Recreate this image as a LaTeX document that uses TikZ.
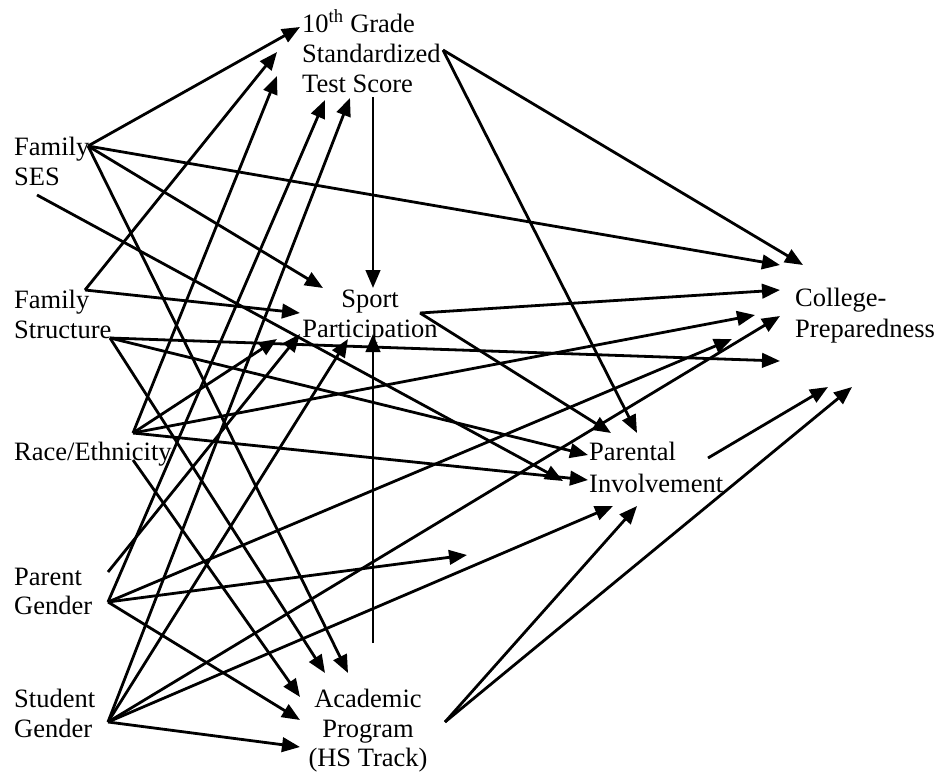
\documentclass[tikz,border=0pt]{standalone}
\usepackage{fontspec}
\setmainfont{Liberation Serif}
\usetikzlibrary{arrows.meta}
\begin{document}
\begin{tikzpicture}[x=1pt,y=-1pt,
  lbl/.style={inner sep=0pt, font=\fontsize{26.5}{30}\selectfont},
  lw/.style={lbl, anchor=base west},
  lc/.style={lbl, anchor=base},
  link/.style={-{Triangle[length=18pt,width=14.5pt]}, line width=2.8pt}]
\path[use as bounding box] (0,0) rectangle (940,777);
% ---------- labels ----------
\node[lw] (test1) at (302,32) {10\textsuperscript{th} Grade};
\node[lw] (test2) at (302,62) {Standardized};
\node[lw] (test3) at (302,92) {Test Score};
\node[lw] (ses1) at (14,155) {Family};
\node[lw] (ses2) at (14,185) {SES};
\node[lw] (str1) at (14,308) {Family};
\node[lw] (str2) at (14,338) {Structure};
\node[lw] (race) at (14,460) {Race/Ethnicity};
\node[lw] (par1) at (14,585) {Parent};
\node[lw] (par2) at (14,614) {Gender};
\node[lw] (stu1) at (14,707) {Student};
\node[lw] (stu2) at (14,737) {Gender};
\node[lc] (sp1) at (370,307) {Sport};
\node[lc] (sp2) at (370,337) {Participation};
\node[lw] (col1) at (795,306) {College-};
\node[lw] (col2) at (795,337) {Preparedness};
\node[lw] (pin1) at (589,460) {Parental};
\node[lw] (pin2) at (589,492) {Involvement};
\node[lc] (ac1) at (368,707) {Academic};
\node[lc] (ac2) at (368,737) {Program};
\node[lc] (ac3) at (368,766) {(HS Track)};
% ---------- start points ----------
\coordinate (sesA) at (88,146);
\coordinate (sesB) at (37,195);
\coordinate (strA) at (85,290);
\coordinate (strB) at (110,338);
\coordinate (raceA) at (133,433);
\coordinate (raceB) at (133,460);
\coordinate (parA) at (108,572);
\coordinate (parB) at (108,602);
\coordinate (stu) at (108,722);
\coordinate (testV) at (373,97);
\coordinate (testR) at (443,50);
\coordinate (sportR) at (420,313);
\coordinate (acadV) at (373,643);
\coordinate (acadR) at (445,722);
\coordinate (pinvR) at (708,458);
% ---------- arrow tips ----------
\coordinate (tT1) at (300,27);
\coordinate (tT2) at (277,52);
\coordinate (tT3) at (277,76);
\coordinate (tT4) at (325,100);
\coordinate (tT5) at (350,98);
\coordinate (sT1) at (323,288);
\coordinate (sT2) at (300,313);
\coordinate (sT3) at (277,339);
\coordinate (sT4) at (300,334);
\coordinate (sT5) at (348,339);
\coordinate (sTtop) at (373,288);
\coordinate (sTbot) at (373,334);
\coordinate (cT1) at (780,265);
\coordinate (cT2) at (803,265);
\coordinate (cT3) at (780,290);
\coordinate (cT4) at (755,315);
\coordinate (cT5) at (780,316);
\coordinate (cT6) at (732,339);
\coordinate (cT7) at (780,361);
\coordinate (cT8) at (828,387);
\coordinate (cT9) at (852,387);
\coordinate (pT1) at (611,433);
\coordinate (pT2) at (637,433);
\coordinate (pT3) at (588,455);
\coordinate (pT4) at (563,481);
\coordinate (pT5) at (588,480);
\coordinate (pT6) at (613,506);
\coordinate (pT7) at (637,506);
\coordinate (freeT) at (467,555);
\coordinate (aT1) at (325,673);
\coordinate (aT2) at (348,673);
\coordinate (aT3) at (300,697);
\coordinate (aT4) at (300,720);
\coordinate (aT5) at (300,747);
% ---------- connectors ----------
% Family SES
\draw[link] (sesA) -- (tT1);
\draw[link] (sesA) -- (sT1);
\draw[link] (sesA) -- (cT1);
\draw[link] (sesA) -- (aT2);
\draw[link] (sesB) -- (pT4);
% Family Structure
\draw[link] (strA) -- (tT2);
\draw[link] (strA) -- (sT2);
\draw[link] (strB) -- (cT7);
\draw[link] (strB) -- (pT3);
\draw[link] (strB) -- (aT1);
% Race/Ethnicity
\draw[link] (raceA) -- (tT3);
\draw[link] (raceA) -- (sT3);
\draw[link] (raceA) -- (cT4);
\draw[link] (raceA) -- (pT5);
\draw[link] (raceB) -- (aT3);
% Parent Gender
\draw[link] (parA) -- (sT4);
\draw[link] (parB) -- (tT4);
\draw[link] (parB) -- (cT6);
\draw[link] (parB) -- (freeT);
\draw[link] (parB) -- (aT4);
% Student Gender
\draw[link] (stu) -- (tT5);
\draw[link] (stu) -- (sT5);
\draw[link] (stu) -- (cT5);
\draw[link] (stu) -- (pT6);
\draw[link] (stu) -- (aT5);
% Test score
\draw[link] (testV) -- (sTtop);
\draw[link] (testR) -- (cT2);
\draw[link] (testR) -- (pT2);
% Sport participation
\draw[link] (sportR) -- (cT3);
\draw[link] (sportR) -- (pT1);
% Academic program
\draw[link] (acadV) -- (sTbot);
\draw[link] (acadR) -- (pT7);
\draw[link] (acadR) -- (cT9);
% Parental involvement
\draw[link] (pinvR) -- (cT8);
\end{tikzpicture}
\end{document}
